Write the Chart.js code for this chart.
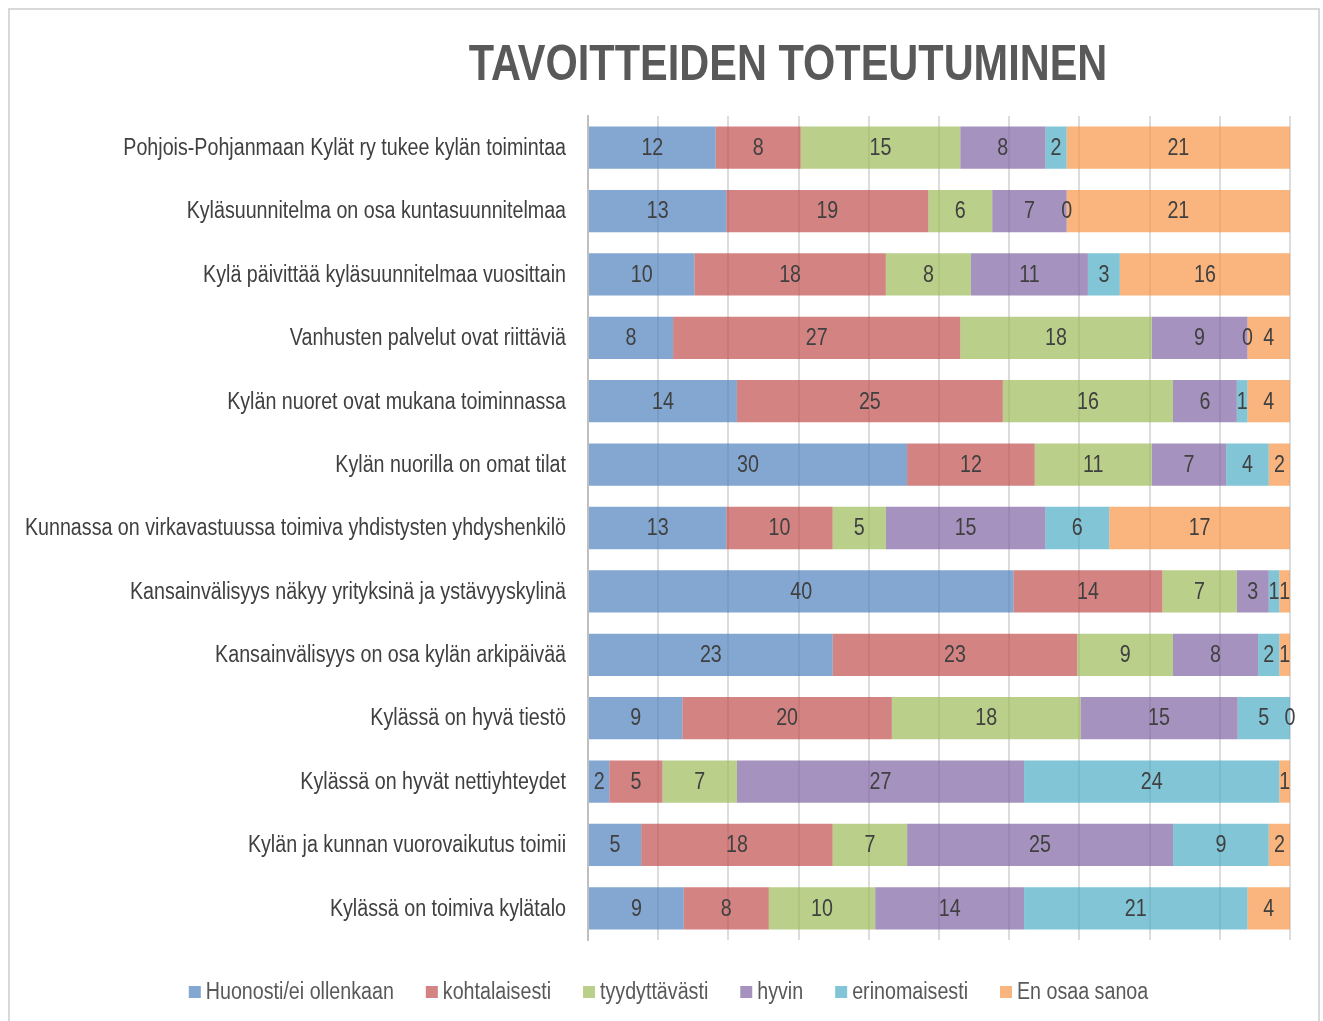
<!DOCTYPE html>
<html>
<head>
<meta charset="utf-8">
<script src="https://cdn.jsdelivr.net/npm/chart.js@4.4.1/dist/chart.umd.min.js"></script>
<style>
  html, body { margin: 0; padding: 0; background: #fff; }
  #wrap { position: relative; width: 1323px; height: 1021px; }
</style>
</head>
<body>
<div id="wrap"><canvas id="c" width="1323" height="1021"></canvas></div>
<script>
const categories = [
  "Pohjois-Pohjanmaan Kylät ry tukee kylän toimintaa",
  "Kyläsuunnitelma on osa kuntasuunnitelmaa",
  "Kylä päivittää kyläsuunnitelmaa vuosittain",
  "Vanhusten palvelut ovat riittäviä",
  "Kylän nuoret ovat mukana toiminnassa",
  "Kylän nuorilla on omat tilat",
  "Kunnassa on virkavastuussa toimiva yhdistysten yhdyshenkilö",
  "Kansainvälisyys näkyy yrityksinä ja ystävyyskylinä",
  "Kansainvälisyys on osa kylän arkipäivää",
  "Kylässä on hyvä tiestö",
  "Kylässä on hyvät nettiyhteydet",
  "Kylän ja kunnan vuorovaikutus toimii",
  "Kylässä on toimiva kylätalo"
];
const seriesNames = ["Huonosti/ei ollenkaan", "kohtalaisesti", "tyydyttävästi", "hyvin", "erinomaisesti", "En osaa sanoa"];
const huonosti      = [12, 13, 10,  8, 14, 30, 13, 40, 23,  9,  2,  5,  9];
const kohtalaisesti = [ 8, 19, 18, 27, 25, 12, 10, 14, 23, 20,  5, 18,  8];
const tyydyttavasti = [15,  6,  8, 18, 16, 11,  5,  7,  9, 18,  7,  7, 10];
const hyvin         = [ 8,  7, 11,  9,  6,  7, 15,  3,  8, 15, 27, 25, 14];
const erinomaisesti = [ 2,  0,  3,  0,  1,  4,  6,  1,  2,  5, 24,  9, 21];
const enOsaaSanoa   = [21, 21, 16,  4,  4,  2, 17,  1,  1,  0,  1,  2,  4];
const xTicks = [0, 10, 20, 30, 40, 50, 60, 70, 80, 90, 100];
const chartTitle = "TAVOITTEIDEN TOTEUTUMINEN";

const seriesValues = [huonosti, kohtalaisesti, tyydyttavasti, hyvin, erinomaisesti, enOsaaSanoa];
const seriesColors = [
  "rgba(79,129,189,0.7)",
  "rgba(192,80,77,0.7)",
  "rgba(155,187,89,0.7)",
  "rgba(128,100,162,0.7)",
  "rgba(75,172,198,0.7)",
  "rgba(247,150,70,0.7)"
];
const totals = categories.map((_, i) => seriesValues.reduce((s, arr) => s + arr[i], 0));

const FONT = "'Liberation Sans', Arial, sans-serif";
const NARROW = 0.855;       // emulate a narrow face by horizontal compression
const TITLE_NARROW = 0.83;
const TXT = 23;

const datasets = seriesValues.map((vals, k) => ({
  label: seriesNames[k],
  raw: vals,
  data: vals.map((v, i) => v / totals[i] * 100),
  backgroundColor: seriesColors[k],
  borderWidth: 0,
  categoryPercentage: 1.0,
  barPercentage: 0.667
}));

function narrowText(ctx, text, x, y, align, f) {
  const k = f || NARROW;
  const w = ctx.measureText(text).width * k;
  let left = x;
  if (align === 'center') left = x - w / 2;
  else if (align === 'right') left = x - w;
  ctx.save();
  ctx.translate(left, y);
  ctx.scale(k, 1);
  ctx.textAlign = 'left';
  ctx.fillText(text, 0, 0);
  ctx.restore();
  return w;
}

const framePlugin = {
  id: 'frame',
  beforeDraw(chart) {
    const ctx = chart.ctx;
    ctx.save();
    ctx.fillStyle = '#ffffff';
    ctx.fillRect(0, 0, chart.width, chart.height);
    ctx.strokeStyle = '#d9d9d9';
    ctx.lineWidth = 2;
    ctx.beginPath();
    ctx.moveTo(9, 1030); ctx.lineTo(9, 9); ctx.lineTo(1319, 9); ctx.lineTo(1319, 1030);
    ctx.stroke();
    // title
    ctx.fillStyle = '#595959';
    ctx.font = "bold 50px " + FONT;
    ctx.textBaseline = 'alphabetic';
    narrowText(ctx, chartTitle, 788, 80, 'center', TITLE_NARROW);
    ctx.restore();
  },
  afterDraw(chart) {
    const ctx = chart.ctx;
    ctx.save();
    // category labels
    const y = chart.scales.y;
    ctx.fillStyle = '#404040';
    ctx.font = TXT + "px " + FONT;
    ctx.textBaseline = 'middle';
    categories.forEach((c, i) => {
      narrowText(ctx, c, 566, y.getPixelForTick(i) + 1, 'right');
    });
    // legend
    ctx.font = TXT + "px " + FONT;
    const gapBox = 5, gapItem = 32, box = 12;
    const widths = seriesNames.map(n => ctx.measureText(n).width * NARROW);
    const total = widths.reduce((s, w) => s + box + gapBox + w, 0) + gapItem * (seriesNames.length - 1);
    let x = 668.5 - total / 2;
    const ly = 993;
    seriesNames.forEach((n, k) => {
      ctx.fillStyle = seriesColors[k];
      ctx.fillRect(x, ly - 7, box, box);
      x += box + gapBox;
      ctx.fillStyle = '#595959';
      narrowText(ctx, n, x, ly, 'left');
      x += widths[k] + gapItem;
    });
    ctx.restore();
  }
};

const labelPlugin = {
  id: 'segLabels',
  afterDatasetsDraw(chart) {
    const ctx = chart.ctx;
    ctx.save();
    ctx.font = TXT + "px " + FONT;
    ctx.fillStyle = '#404040';
    ctx.textBaseline = 'middle';
    chart.data.datasets.forEach((ds, di) => {
      const meta = chart.getDatasetMeta(di);
      meta.data.forEach((bar, i) => {
        const cx = (bar.x + bar.base) / 2;
        narrowText(ctx, String(ds.raw[i]), cx, bar.y + 1, 'center');
      });
    });
    ctx.restore();
  }
};

new Chart(document.getElementById('c'), {
  type: 'bar',
  data: { labels: categories, datasets },
  options: {
    indexAxis: 'y',
    responsive: false,
    animation: false,
    layout: { padding: { top: 116, right: 33, bottom: 81, left: 0 } },
    scales: {
      x: {
        stacked: true,
        min: 0, max: 100,
        afterBuildTicks(scale) { scale.ticks = xTicks.map(v => ({ value: v })); },
        afterFit(scale) { scale.height = 0; },
        ticks: { display: false },
        grid: { color: '#dcdcdc', lineWidth: 2, drawTicks: false },
        border: { display: false }
      },
      y: {
        stacked: true,
        afterFit(scale) { scale.width = 588; },
        ticks: { display: false },
        grid: { display: false, drawTicks: false },
        border: { display: true, color: '#bfbfbf', width: 2 }
      }
    },
    plugins: {
      title: { display: false },
      tooltip: { enabled: false },
      legend: { display: false }
    }
  },
  plugins: [framePlugin, labelPlugin]
});
</script>
</body>
</html>
